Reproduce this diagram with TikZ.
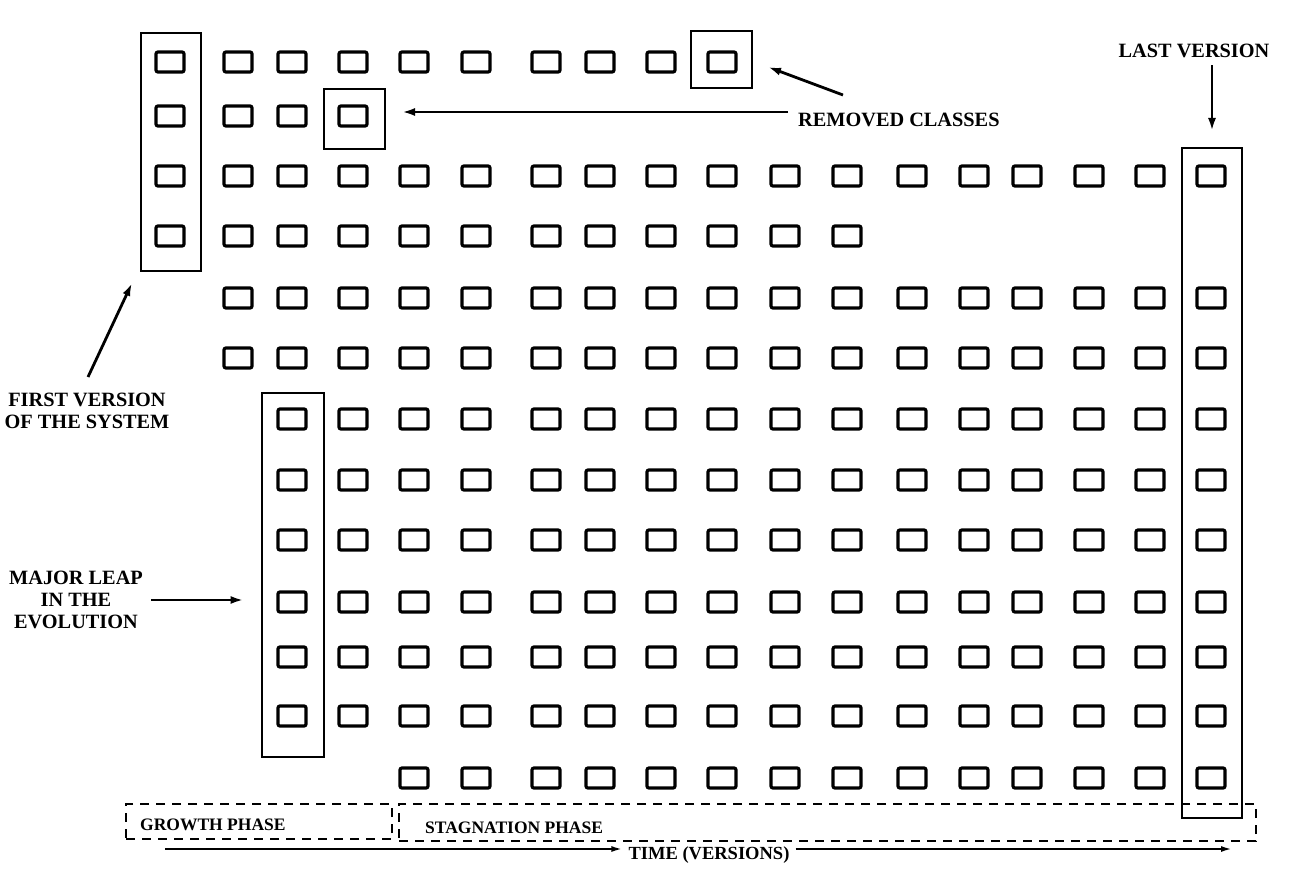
\documentclass[tikz,border=0pt]{standalone}
\usepackage{fontspec}
\setmainfont{Liberation Serif}
\usetikzlibrary{arrows.meta,positioning,calc}
\tikzset{
  >=Latex,
  cls/.style={draw=black,line width=3.2pt,rounded corners=2pt,minimum width=28pt,minimum height=20pt,inner sep=0pt},
  frame/.style={draw=black,line width=2.8pt,inner sep=0pt},
  phase/.style={draw=black,line width=2.8pt,dash pattern=on 9pt off 7pt,inner sep=0pt},
  label/.style={font=\bfseries\fontsize{20.3}{22}\selectfont,align=center,inner sep=0pt},
  phaselabel/.style={font=\bfseries\fontsize{17.5}{19}\selectfont,inner sep=0pt,anchor=west},
  pointer/.style={-{Latex[length=13pt,width=8pt]},line width=2.8pt},
  timeline/.style={-{Latex[length=11pt,width=6pt]},line width=2pt}
}
\begin{document}
\begin{tikzpicture}[x=1pt,y=-1pt]
  \useasboundingbox (0,0) rectangle (1302,872);
  % grid of versions (columns) and classes (rows)
  \foreach \x [count=\c] in {170,238,292,353,414,476,546,600,661,722,785,847,912,974,1027,1089,1150,1211}{
    \coordinate (col\c) at (\x,0);
  }
  \foreach \y [count=\r] in {62,116,176,236,298,358,419,480,540,602,657,716,778}{
    \coordinate (row\r) at (0,\y);
  }
  \foreach \r/\a/\b in {1/1/10,2/1/4,3/1/18,4/1/12,5/2/18,6/2/18,7/3/18,8/3/18,9/3/18,10/3/18,11/3/18,12/3/18,13/5/18}{
    \foreach \c in {\a,...,\b}{\node[cls] (s\r-\c) at (col\c |- row\r) {};}
  }
  % highlighted versions and classes
  \node[frame,minimum width=60pt,minimum height=238pt] (firstbox) at (171,152) {};
  \node[frame,minimum width=61pt,minimum height=60pt] (rmbox1) at (354.5,119) {};
  \node[frame,minimum width=61pt,minimum height=57pt] (rmbox2) at (721.5,59.5) {};
  \node[frame,minimum width=62pt,minimum height=364pt] (majorbox) at (293,575) {};
  \node[frame,minimum width=60pt,minimum height=670pt] (lastbox) at (1212,483) {};
  % phases
  \node[phase,minimum width=266pt,minimum height=35pt] (growth) at (259,821.5) {};
  \node[phase,minimum width=857pt,minimum height=37pt] (stagnation) at (827.5,822.5) {};
  \node[phaselabel] (growthlbl) at (140,825) {GROWTH PHASE};
  \node[phaselabel] (stagnationlbl) at (425,828) {STAGNATION PHASE};
  % labels
  \node[label] (lastlbl) at (1194,51) {LAST VERSION};
  \node[label,anchor=west] (removedlbl) at (798,120) {REMOVED CLASSES};
  \node[label] (firstlbl) at (87,411) {FIRST VERSION\\OF THE SYSTEM};
  \node[label] (majorlbl) at (76,600) {MAJOR LEAP\\IN THE\\EVOLUTION};
  \node[label,font=\bfseries\fontsize{18.5}{19}\selectfont] (timelbl) at (709,855) {TIME (VERSIONS)};
  % arrows
  \coordinate (lasttip) at (1212,131);
  \coordinate (rmtail1) at (788,112);
  \coordinate (rmtip1) at (402,112);
  \coordinate (rmtail2) at (843,95);
  \coordinate (rmtip2) at (768,67);
  \coordinate (firsttail) at (88,377);
  \coordinate (firsttip) at (132,283);
  \coordinate (timestart) at (165,849);
  \coordinate (timeend) at (1232,849);
  \draw[pointer,shorten <=7pt] (lastlbl.south -| lasttip) -- (lasttip);
  \draw[pointer] (rmtail1) -- (rmtip1);
  \draw[pointer] (rmtail2) -- (rmtip2);
  \draw[pointer] (firsttail) -- (firsttip);
  \draw[pointer,shorten <=8pt,shorten >=17pt] (majorlbl.east) -- (majorbox.west |- majorlbl.east);
  \draw[timeline,shorten >=6pt] (timestart) -- (timestart -| timelbl.west);
  \draw[timeline,shorten <=6pt] (timeend -| timelbl.east) -- (timeend);
\end{tikzpicture}
\end{document}
